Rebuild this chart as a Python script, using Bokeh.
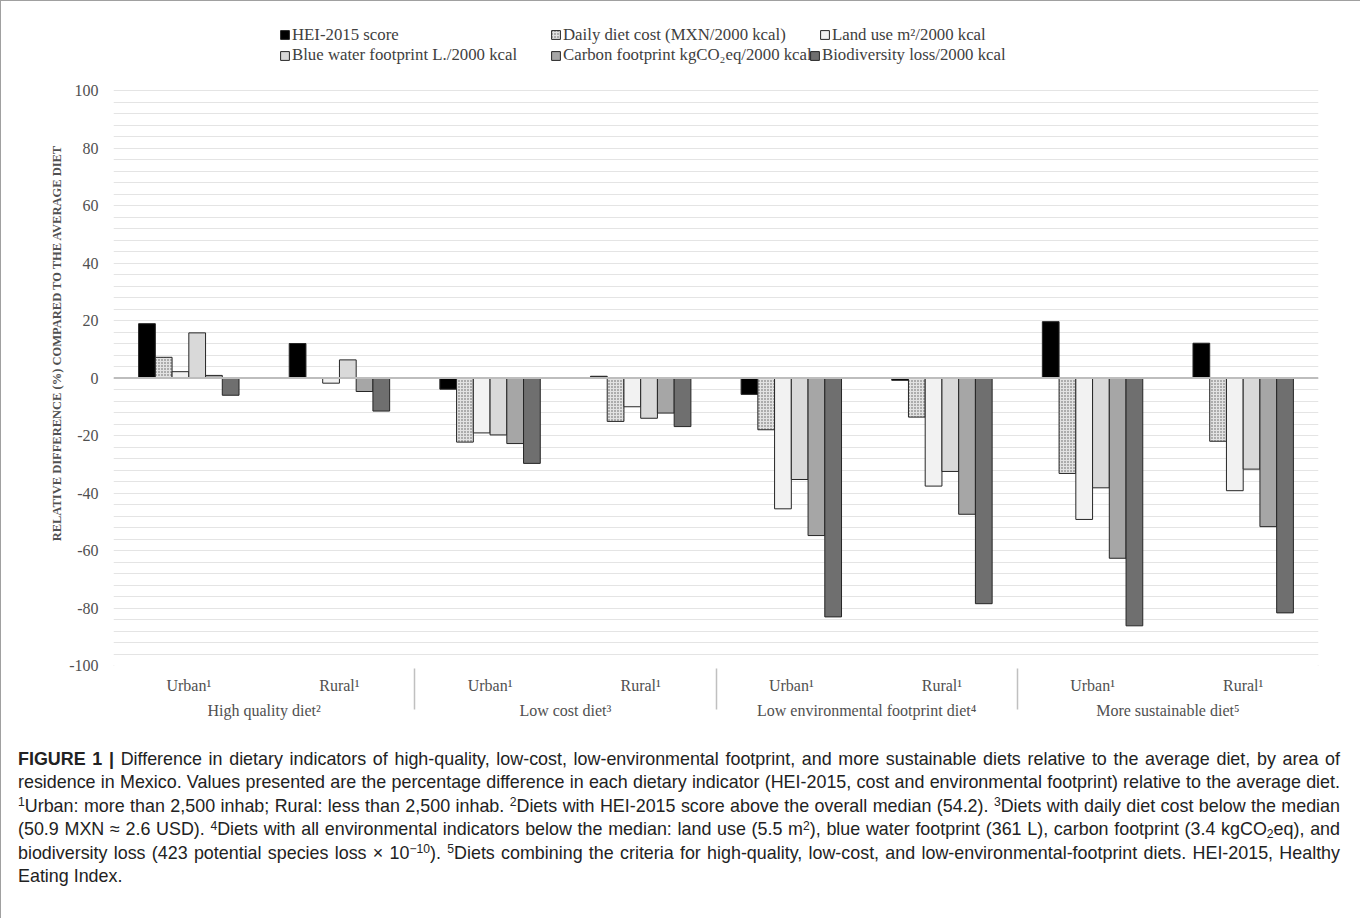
import math
from bokeh.plotting import figure
from bokeh.layouts import column
from bokeh.models import (FactorRange, Range1d, ColumnDataSource, FixedTicker, Legend,
                          LegendItem, Span, Div, PrintfTickFormatter, Arrow)
from bokeh.transform import dodge
from bokeh.core.properties import value
from bokeh.embed import file_html
from bokeh.resources import INLINE

# ---------------- data ----------------
groups = ["High quality diet²", "Low cost diet³",
          "Low environmental footprint diet⁴", "More sustainable diet⁵"]
areas = ["Urban¹", "Rural¹"]
series_names = ["HEI-2015 score", "Daily diet cost (MXN/2000 kcal)", "Land use m²/2000 kcal",
                "Blue water footprint L./2000 kcal", "Carbon footprint kgCO₂eq/2000 kcal",
                "Biodiversity loss/2000 kcal"]
# order of cells: HQ-Urban, HQ-Rural, LC-Urban, LC-Rural, LE-Urban, LE-Rural, MS-Urban, MS-Rural
hei = [18.9, 12.0, -3.9, 0.6, -5.7, -0.8, 19.6, 12.1]
cost = [7.2, 0.0, -22.3, -15.1, -18.0, -13.6, -33.2, -22.0]
land = [2.2, -1.8, -19.1, -10.0, -45.5, -37.6, -49.2, -39.2]
water = [15.7, 6.3, -19.8, -14.0, -35.3, -32.5, -38.2, -31.7]
carbon = [0.9, -4.7, -22.8, -12.2, -54.8, -47.4, -62.7, -51.7]
bio = [-6.0, -11.5, -29.7, -16.9, -83.1, -78.5, -86.2, -81.7]
y_ticks = list(range(-100, 101, 20))
grid_ticks = list(range(-100, 101, 4))
y_axis_title = "RELATIVE DIFFERENCE (%) COMPARED TO THE AVERAGE DIET"


def sup(t):
    return f"<span style='position:relative;top:-0.45em;font-size:68%;line-height:0'>{t}</span>"


def sub(t):
    return f"<span style='position:relative;top:0.25em;font-size:68%;line-height:0'>{t}</span>"


caption_lines = [
    "<b>FIGURE 1 |</b> Difference in dietary indicators of high-quality, low-cost, low-environmental footprint, and more sustainable diets relative to the average diet, by area of",
    "residence in Mexico. Values presented are the percentage difference in each dietary indicator (HEI-2015, cost and environmental footprint) relative to the average diet.",
    f"{sup(1)}Urban: more than 2,500 inhab; Rural: less than 2,500 inhab. {sup(2)}Diets with HEI-2015 score above the overall median (54.2). {sup(3)}Diets with daily diet cost below the median",
    f"(50.9 MXN &asymp; 2.6 USD). {sup(4)}Diets with all environmental indicators below the median: land use (5.5 m{sup(2)}), blue water footprint (361 L), carbon footprint (3.4 kgCO{sub(2)}eq), and",
    f"biodiversity loss (423 potential species loss &times; 10{sup('&minus;10')}). {sup(5)}Diets combining the criteria for high-quality, low-cost, and low-environmental-footprint diets. HEI-2015, Healthy",
    "Eating Index.",
]

# ---------------- figure ----------------
factors = [(g, a) for g in groups for a in areas]
keys = ["hei", "cost", "land", "water", "carbon", "bio"]
source = ColumnDataSource(data=dict(x=factors, hei=hei, cost=cost, land=land,
                                    water=water, carbon=carbon, bio=bio))

SERIF = "Liberation Serif"
TXT = "#505050"

FIG_W, FIG_H = 1358, 740
# frame edges in page pixels; the figure sits 1px inside the outer border
PAGE_L, PAGE_R, PAGE_T, PAGE_B = 113, 1318, 20, 665
OFF = 1
PX_PER_UNIT = 2.875          # 575 px for 200 %
y_top = 100 + (90 - PAGE_T) / PX_PER_UNIT   # free room above the 100 line for the legend

x_range = FactorRange(*factors, range_padding=0, factor_padding=0,
                      subgroup_padding=0, group_padding=0)
p = figure(width=FIG_W, height=FIG_H, x_range=x_range, y_range=Range1d(-100, y_top),
           output_backend="svg", toolbar_location=None,
           min_border_left=PAGE_L - OFF, min_border_right=FIG_W - (PAGE_R - OFF),
           min_border_top=PAGE_T - OFF, min_border_bottom=FIG_H - (PAGE_B - OFF))
p.outline_line_color = None
p.background_fill_color = "white"

styles = [
    dict(fill_color="#000000"),
    dict(fill_color="#e2e2e2", hatch_pattern=".", hatch_scale=3, hatch_weight=1.5,
         hatch_color="#5a5a5a"),
    dict(fill_color="#f2f2f2"),
    dict(fill_color="#d9d9d9"),
    dict(fill_color="#a6a6a6"),
    dict(fill_color="#6f6f6f"),
]
bar_w = 1 / 9
renderers = []
for i, (k, st) in enumerate(zip(keys, styles)):
    r = p.vbar(x=dodge("x", (i - 2.5) * bar_w, range=p.x_range), top=k, bottom=0,
               width=bar_w, source=source, line_color="#262626", line_width=1, **st)
    renderers.append(r)

# zero line
p.add_layout(Span(location=0, dimension="width", line_color="#bdbdbd", line_width=2,
                  level="overlay"))

# grid
p.xgrid.visible = False
p.ygrid.ticker = FixedTicker(ticks=grid_ticks)
p.ygrid.grid_line_color = "#e4e4e4"
p.ygrid.grid_line_width = 1

# y axis
p.yaxis.ticker = FixedTicker(ticks=y_ticks)
p.yaxis.formatter = PrintfTickFormatter(format="%d")
p.yaxis.axis_line_color = None
p.yaxis.major_tick_line_color = None
p.yaxis.minor_tick_line_color = None
p.yaxis.major_label_text_font = SERIF
p.yaxis.major_label_text_font_size = "16px"
p.yaxis.major_label_text_color = TXT
p.yaxis.major_label_standoff = 9
p.yaxis.axis_label = y_axis_title
p.yaxis.axis_label_text_font = SERIF
p.yaxis.axis_label_text_font_size = "12.5px"
p.yaxis.axis_label_text_font_style = "bold"
p.yaxis.axis_label_text_color = TXT
p.yaxis.axis_label_standoff = 2

# x axis
p.xaxis.axis_line_color = None
p.xaxis.major_tick_line_color = None
p.xaxis.minor_tick_line_color = None
p.xaxis.major_label_text_font = SERIF
p.xaxis.major_label_text_font_size = "16px"
p.xaxis.major_label_text_color = TXT
p.xaxis.major_label_standoff = 5
p.xaxis.group_text_font = SERIF
p.xaxis.group_text_font_size = "16px"
p.xaxis.group_text_font_style = "normal"
p.xaxis.group_text_color = TXT
p.xaxis.separator_line_color = "#c0c0c0"
p.xaxis.separator_line_width = 1.5

# outer separators at both ends of the category block (below the plot area)
sep_bottom = -100 - (722 - 665) / PX_PER_UNIT
for edge in (0, len(factors)):
    p.add_layout(Arrow(end=None, x_start=edge, y_start=-100, x_end=edge, y_end=sep_bottom,
                       line_color="#c0c0c0", line_width=1.5), "below")

# legend: one entry per box so every entry sits where the reference puts it
legend_page_x = [279, 550, 819, 279, 550, 809]
legend_page_y = [34.5, 34.5, 34.5, 55, 55, 55]
LEG_H = 20
for name, r, lx, ly in zip(series_names, renderers, legend_page_x, legend_page_y):
    lg = Legend(items=[LegendItem(label=value(name), renderers=[r])],
                location=(lx - PAGE_L, PAGE_B - (ly + LEG_H / 2)),
                glyph_width=11, glyph_height=11, label_standoff=2, label_width=10,
                label_height=LEG_H, spacing=0, padding=0, margin=0,
                border_line_color=None, background_fill_alpha=0,
                label_text_font=SERIF, label_text_font_size="16.8px",
                label_text_color="#404040")
    p.add_layout(lg, "center")

# caption (justified lines, like the printed figure)
line_html = []
for i, t in enumerate(caption_lines):
    last = i == len(caption_lines) - 1
    align = "left" if last else "justify"
    line_html.append(
        f"<div style='width:1322px;height:23.4px;line-height:23.4px;white-space:normal;"
        f"text-align:{align};text-align-last:{align};overflow:visible'>{t}</div>")
caption = Div(text="".join(line_html), width=FIG_W, height=918 - 2 - FIG_H,
              styles={"font-family": "'Liberation Sans', Arial, sans-serif",
                      "font-size": "17.9px", "color": "#222222",
                      "padding": "2px 0 0 12px", "box-sizing": "border-box"})

layout = column(p, caption, spacing=0,
                styles={"border": "1px solid #a0a0a0"})

open("out.html", "w").write(file_html(layout, INLINE))
